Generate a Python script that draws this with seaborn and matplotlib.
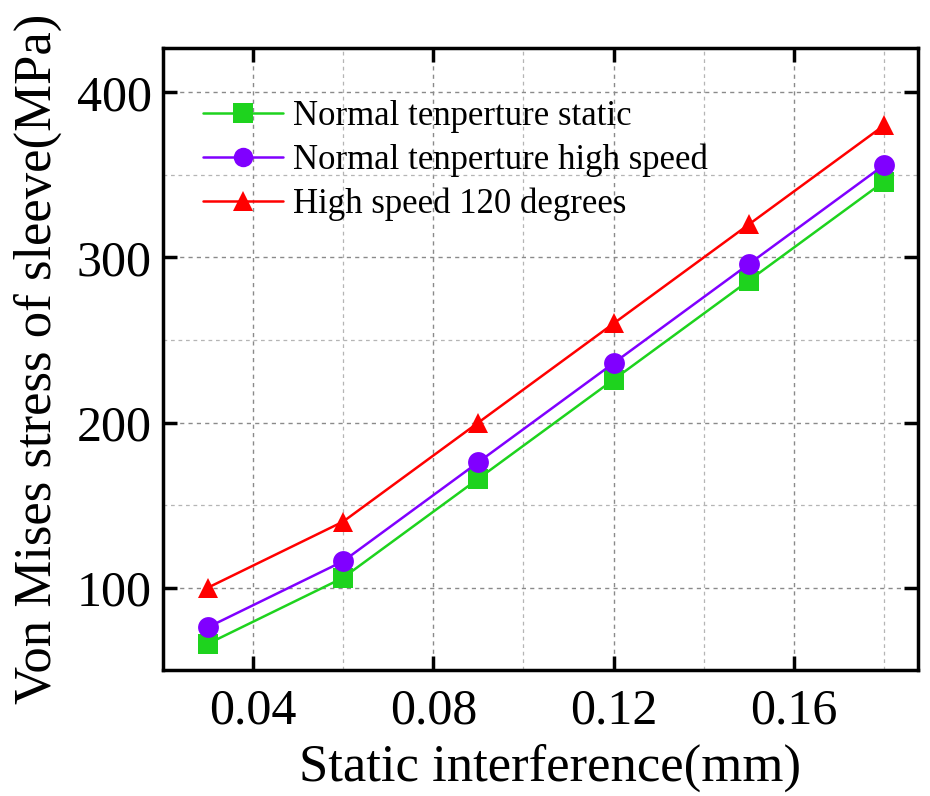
import numpy as np
import pandas as pd
import seaborn as sns
import matplotlib.pyplot as plt
from matplotlib.ticker import MultipleLocator

interference = [0.03, 0.06, 0.09, 0.12, 0.15, 0.18]
normal_static = [66, 106, 166, 226, 286, 346]
normal_high_speed = [76, 116, 176, 236, 296, 356]
high_speed_120 = [100, 140, 200, 260, 320, 380]

series_names = ["Normal tenperture static",
                "Normal tenperture high speed",
                "High speed 120 degrees"]
series_values = [normal_static, normal_high_speed, high_speed_120]
colors = ["#1ed31e", "#8000ff", "#ff0000"]
markers = ["s", "o", "^"]

rows = []
for name, vals in zip(series_names, series_values):
    for x, y in zip(interference, vals):
        rows.append({"x": x, "y": y, "series": name})
df = pd.DataFrame(rows)

sns.set_style("ticks")
plt.rcParams['font.family'] = ['Liberation Serif', 'DejaVu Serif']
plt.rcParams['text.color'] = 'black'
plt.rcParams['axes.labelcolor'] = 'black'
plt.rcParams['xtick.color'] = 'black'
plt.rcParams['ytick.color'] = 'black'

fig = plt.figure(figsize=(9.3, 7.96), dpi=100)
ax = fig.add_axes([0.175, 0.158, 0.812, 0.782])

ax.xaxis.set_major_locator(MultipleLocator(0.04))
ax.xaxis.set_minor_locator(MultipleLocator(0.02))
ax.yaxis.set_major_locator(MultipleLocator(100))
ax.yaxis.set_minor_locator(MultipleLocator(50))
ax.grid(which='major', color='#8a8a8a', linestyle=(0, (3, 3)), linewidth=1.0)
ax.grid(which='minor', color='#b5b5b5', linestyle=(0, (3, 3)), linewidth=0.9)
ax.set_axisbelow(True)

sns.lineplot(data=df, x="x", y="y", hue="series", style="series",
             palette=dict(zip(series_names, colors)),
             markers=dict(zip(series_names, markers)),
             dashes=False, markersize=15, linewidth=1.8,
             markeredgewidth=0, ax=ax)

ax.set_xlim(0.02, 0.1875)
ax.set_ylim(50, 427)
ax.set_xticks([0.04, 0.08, 0.12, 0.16])
ax.set_xticklabels(["0.04", "0.08", "0.12", "0.16"])
ax.set_yticks([100, 200, 300, 400])

ax.tick_params(which='major', direction='in', length=10, width=2.5,
               top=True, right=True, labelsize=36)
ax.tick_params(axis='x', pad=13)
ax.tick_params(axis='y', pad=8)
ax.tick_params(which='minor', length=0)
for sp in ax.spines.values():
    sp.set_linewidth(2.5)
    sp.set_color('black')

ax.set_xlabel("Static interference(mm)", fontsize=38)
ax.set_ylabel("Von Mises stress of sleeve(MPa)", fontsize=38)
ax.xaxis.set_label_coords(0.513, -0.118)
ax.yaxis.set_label_coords(-0.133, 0.5)

leg = ax.legend(loc='upper left', frameon=False, fontsize=25,
                handlelength=2.3, handletextpad=0.3, labelspacing=0.3,
                borderaxespad=0.3, bbox_to_anchor=(0.021, 0.955))
for h in leg.legend_handles:
    h.set_markersize(14)
    h.set_linewidth(1.8)

fig.savefig("out.png", dpi=100)
